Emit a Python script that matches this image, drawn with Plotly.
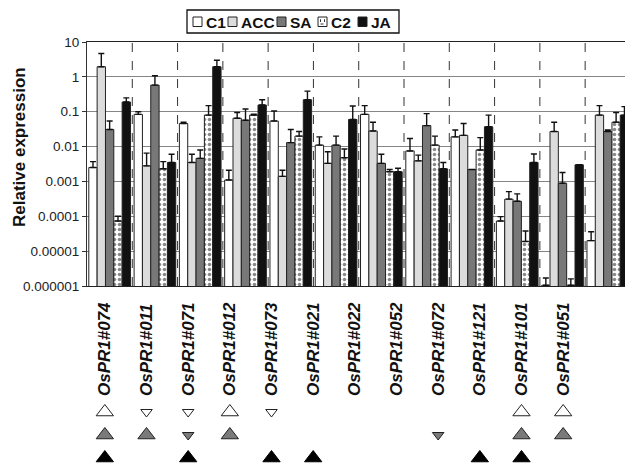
import plotly.graph_objects as go

# ---------------- data ----------------
genes = ["OsPR1#074", "OsPR1#011", "OsPR1#071", "OsPR1#012", "OsPR1#073", "OsPR1#021",
         "OsPR1#022", "OsPR1#052", "OsPR1#072", "OsPR1#121", "OsPR1#101", "OsPR1#051"]
series = ["C1", "ACC", "SA", "C2", "JA"]

C1 = [0.0025, 0.084, 0.046, 0.0011, 0.054, 0.011, 0.084, 0.0075, 0.019, 7.3e-5, 1.05e-6, 2.0e-5]
C1_top = [0.0037, 0.10, 0.05, 0.0021, 0.105, 0.019, 0.15, 0.017, 0.03, 9.8e-5, 1.7e-6, 3.6e-5]
ACC = [1.95, 0.0028, 0.0035, 0.065, 0.0014, 0.0033, 0.028, 0.0039, 0.021, 0.00031, 0.027, 0.08]
ACC_top = [4.7, 0.0065, 0.006, 0.095, 0.0021, 0.0071, 0.05, 0.0057, 0.046, 0.00051, 0.05, 0.15]
SA = [0.031, 0.58, 0.0046, 0.057, 0.013, 0.011, 0.0033, 0.04, 0.0022, 0.00027, 0.00089, 0.027]
SA_top = [0.054, 1.08, 0.008, 0.12, 0.031, 0.02, 0.006, 0.088, 0.0022, 0.00044, 0.0018, 0.03]
C2 = [7.3e-5, 0.0023, 0.08, 0.08, 0.02, 0.0048, 0.0019, 0.011, 0.008, 1.9e-5, 1.05e-6, 0.05]
C2_top = [1.0e-4, 0.0037, 0.15, 0.085, 0.027, 0.0085, 0.0022, 0.02, 0.018, 3.8e-5, 1.6e-6, 0.095]
JA = [0.19, 0.0035, 1.95, 0.156, 0.22, 0.06, 0.0019, 0.0023, 0.037, 0.0035, 0.0030, 0.08]
JA_top = [0.25, 0.006, 3.0, 0.22, 0.39, 0.146, 0.0024, 0.0035, 0.08, 0.0061, 0.0030, 0.14]

# induction (1 = up, -1 = down, 0 = none) for ACC, SA, JA rows
ACC_change = [1, -1, -1, 1, -1, 0, 0, 0, 0, 0, 1, 1]
SA_change = [1, 1, -1, 1, 0, 0, 0, 0, -1, 0, 1, 1]
JA_change = [1, 0, 1, 0, 1, 1, 0, 0, 0, 1, 1, 0]

tickvals_y = [1e1, 1e0, 1e-1, 1e-2, 1e-3, 1e-4, 1e-5, 1e-6]
ticktext_y = ["10", "1", "0.1", "0.01", "0.001", "0.0001", "0.00001", "0.000001"]

# ---------------- layout geometry ----------------
W, H = 625, 471
L, R, T, B = 87, 0, 42, 0
PW, PH = W - L - R, H - T - B


def px_x(px):
    return (px - L) / PW


def px_y(py):
    return (H - B - py) / PH


values = [C1, ACC, SA, C2, JA]
tops = [C1_top, ACC_top, SA_top, C2_top, JA_top]
colors = ["#ffffff", "#dcdcdc", "#787878", "#ffffff", "#111111"]
xs = list(range(len(genes)))

fig = go.Figure()
for name, v, tp, col in zip(series, values, tops, colors):
    plus = [max(t - a, 0) for a, t in zip(v, tp)]
    marker = dict(color=col, line=dict(color="#222", width=1))
    if name == "C2":
        marker["pattern"] = dict(shape=".", fgcolor="#111", bgcolor="#ffffff",
                                 size=5, solidity=0.4)
    fig.add_trace(go.Bar(
        x=xs, y=v, name=name, marker=marker, showlegend=False,
        error_y=dict(type="data", symmetric=False, array=plus,
                     arrayminus=[0] * len(v), color="#111", thickness=1.4, width=3),
        xaxis="x", yaxis="y"))

# induction triangles
rows = [(ACC_change, 3, "#ffffff", "#222"), (SA_change, 2, "#7a7a7a", "#222"),
        (JA_change, 1, "#000000", "#000000")]
for ch, yrow, col, lcol in rows:
    px_, sym, sz = [], [], []
    for i, c in enumerate(ch):
        if c != 0:
            px_.append(i)
            sym.append("triangle-up" if c > 0 else "triangle-down")
            sz.append(15 if c > 0 else 10)
    fig.add_trace(go.Scatter(
        x=px_, y=[yrow] * len(px_), mode="markers", showlegend=False,
        marker=dict(symbol=sym, size=sz, color=col, opacity=1,
                    line=dict(color=lcol, width=1)),
        xaxis="x2", yaxis="y2", hoverinfo="skip"))

# group separators
shapes = []
for i in range(len(genes) - 1):
    shapes.append(dict(type="line", xref="x", yref="y domain", x0=i + 0.5, x1=i + 0.5,
                       y0=0, y1=1, line=dict(color="#333", width=1, dash="dash")))

# custom legend
shapes.append(dict(type="rect", xref="paper", yref="paper",
                   x0=px_x(187), x1=px_x(399), y0=px_y(33), y1=px_y(10),
                   line=dict(color="#111", width=1.3), fillcolor="white"))
sw_left = [193, 228, 277, 318, 358]
annotations = []
for name, col, sx in zip(series, colors, sw_left):
    shapes.append(dict(type="rect", xref="paper", yref="paper",
                       x0=px_x(sx), x1=px_x(sx + 9), y0=px_y(26.5), y1=px_y(17),
                       line=dict(color="#222", width=1), fillcolor=col))
    if name == "C2":
        shapes.append(dict(type="rect", xref="paper", yref="paper",
                           x0=px_x(sx + 2.5), x1=px_x(sx + 6.5), y0=px_y(24), y1=px_y(19.5),
                           line=dict(color="#333", width=1, dash="dot"), fillcolor="white"))
    annotations.append(dict(xref="paper", yref="paper", x=px_x(sx + 11), y=px_y(22),
                            xanchor="left", yanchor="middle", showarrow=False, text=name,
                            font=dict(family="Liberation Sans, Arial", size=15.5,
                                      color="#111", weight="bold")))

# y-axis title
annotations.append(dict(xref="paper", yref="paper", x=px_x(19), y=px_y(147),
                        xanchor="center", yanchor="middle", showarrow=False,
                        text="Relative expression", textangle=-90,
                        font=dict(family="Liberation Sans, Arial", size=17,
                                  color="#111", weight="bold")))

fig.update_layout(
    width=W, height=H, margin=dict(l=L, r=R, t=T, b=B, autoexpand=False),
    paper_bgcolor="white", plot_bgcolor="white",
    barmode="group", bargap=0.08, bargroupgap=0,
    shapes=shapes, annotations=annotations,
    font=dict(family="Liberation Sans, Arial", color="#222"),
    xaxis=dict(domain=[0, 1], range=[-0.5, 11.38], showticklabels=False, ticks="",
               showgrid=False, zeroline=False, showline=True, linecolor="#222",
               linewidth=1.2, mirror=True, anchor="y", automargin=False),
    yaxis=dict(domain=[px_y(286), 1], type="log", range=[-6, 1],
               tickvals=tickvals_y, ticktext=ticktext_y, ticks="outside", ticklen=4,
               tickcolor="#333", tickfont=dict(size=13.5, color="#222"),
               showgrid=True, gridcolor="#858585", gridwidth=1.2,
               showline=True, linecolor="#333", linewidth=1.2, mirror=True,
               zeroline=False, anchor="x", automargin=False),
    xaxis2=dict(domain=[0, px_x(584)], range=[-0.428, 11.5], anchor="y2", side="top",
                tickvals=xs, ticktext=genes, tickangle=-90, ticks="",
                tickfont=dict(size=17, color="#111", weight="bold", style="italic"),
                showgrid=False, zeroline=False, showline=False, automargin=False),
    yaxis2=dict(domain=[0, px_y(397)], range=[0.435, 3.652], visible=False, anchor="x2",
                automargin=False),
)

fig.write_html("out.html")
